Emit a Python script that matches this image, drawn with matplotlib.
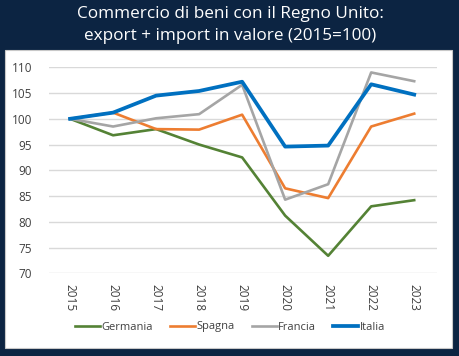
import matplotlib.pyplot as plt
from matplotlib.patches import Rectangle

# Dati (indice 2015=100)
anni = ["2015", "2016", "2017", "2018", "2019", "2020", "2021", "2022", "2023"]
germania = [100, 96.8, 98.0, 95.0, 92.5, 81.2, 73.4, 83.0, 84.2]
spagna = [100, 101.2, 98.0, 97.9, 100.8, 86.5, 84.6, 98.5, 101.0]
francia = [100, 98.5, 100.1, 100.9, 106.6, 84.3, 87.3, 109.0, 107.3]
italia = [100, 101.2, 104.5, 105.4, 107.2, 94.6, 94.8, 106.7, 104.7]

sfondo = "#0c2442"

fig = plt.figure(figsize=(4.6, 3.56), dpi=100, facecolor=sfondo)

# pannello bianco
fig.patches.append(Rectangle((5 / 460, 1 - 348 / 356), 447 / 460, 298 / 356,
                             transform=fig.transFigure, facecolor="white",
                             edgecolor="#c8c8c8", linewidth=0.8, zorder=-10))

fig.text(0.5, 1 - 14 / 356, "Commercio di beni con il Regno Unito:",
         ha="center", va="center", color="white", fontsize=12.3, family="Open Sans")
fig.text(0.5, 1 - 36 / 356, "export + import in valore (2015=100)",
         ha="center", va="center", color="white", fontsize=12.3, family="Open Sans")

ax = fig.add_axes([49 / 460, 1 - 273.3 / 356, 388 / 460, 206 / 356])
ax.set_zorder(5)
ax.patch.set_alpha(0)
x = range(len(anni))
ax.plot(x, germania, color="#548235", lw=1.9, label="Germania")
ax.plot(x, spagna, color="#ed7d31", lw=1.9, label="Spagna")
ax.plot(x, francia, color="#a5a5a5", lw=1.9, label="Francia")
ax.plot(x, italia, color="#0070c0", lw=2.7, label="Italia")

ax.set_ylim(70, 110)
ax.set_xlim(-0.49, 8.53)
ax.set_yticks(range(70, 111, 5))
ax.set_xticks(list(x))
ax.set_xticklabels(anni, rotation=-90)
ax.grid(axis="y", color="#d9d9d9", lw=1)
ax.set_axisbelow(True)
for s in ax.spines.values():
    s.set_visible(False)
ax.tick_params(length=0, labelsize=8.5, colors="#404040")
ax.tick_params(axis="y", pad=12)
ax.tick_params(axis="x", pad=8)
for t in ax.get_xticklabels() + ax.get_yticklabels():
    t.set_family("Open Sans")

leg = ax.legend(loc="center", bbox_to_anchor=((230 - 49) / 388, (273.3 - 327) / 206), ncol=4,
                frameon=False, handlelength=2.25, handletextpad=0.15,
                columnspacing=1.5, prop={"family": "Open Sans", "size": 8})
for t in leg.get_texts():
    t.set_color("#404040")

fig.savefig("out.png", dpi=100, facecolor=sfondo)
